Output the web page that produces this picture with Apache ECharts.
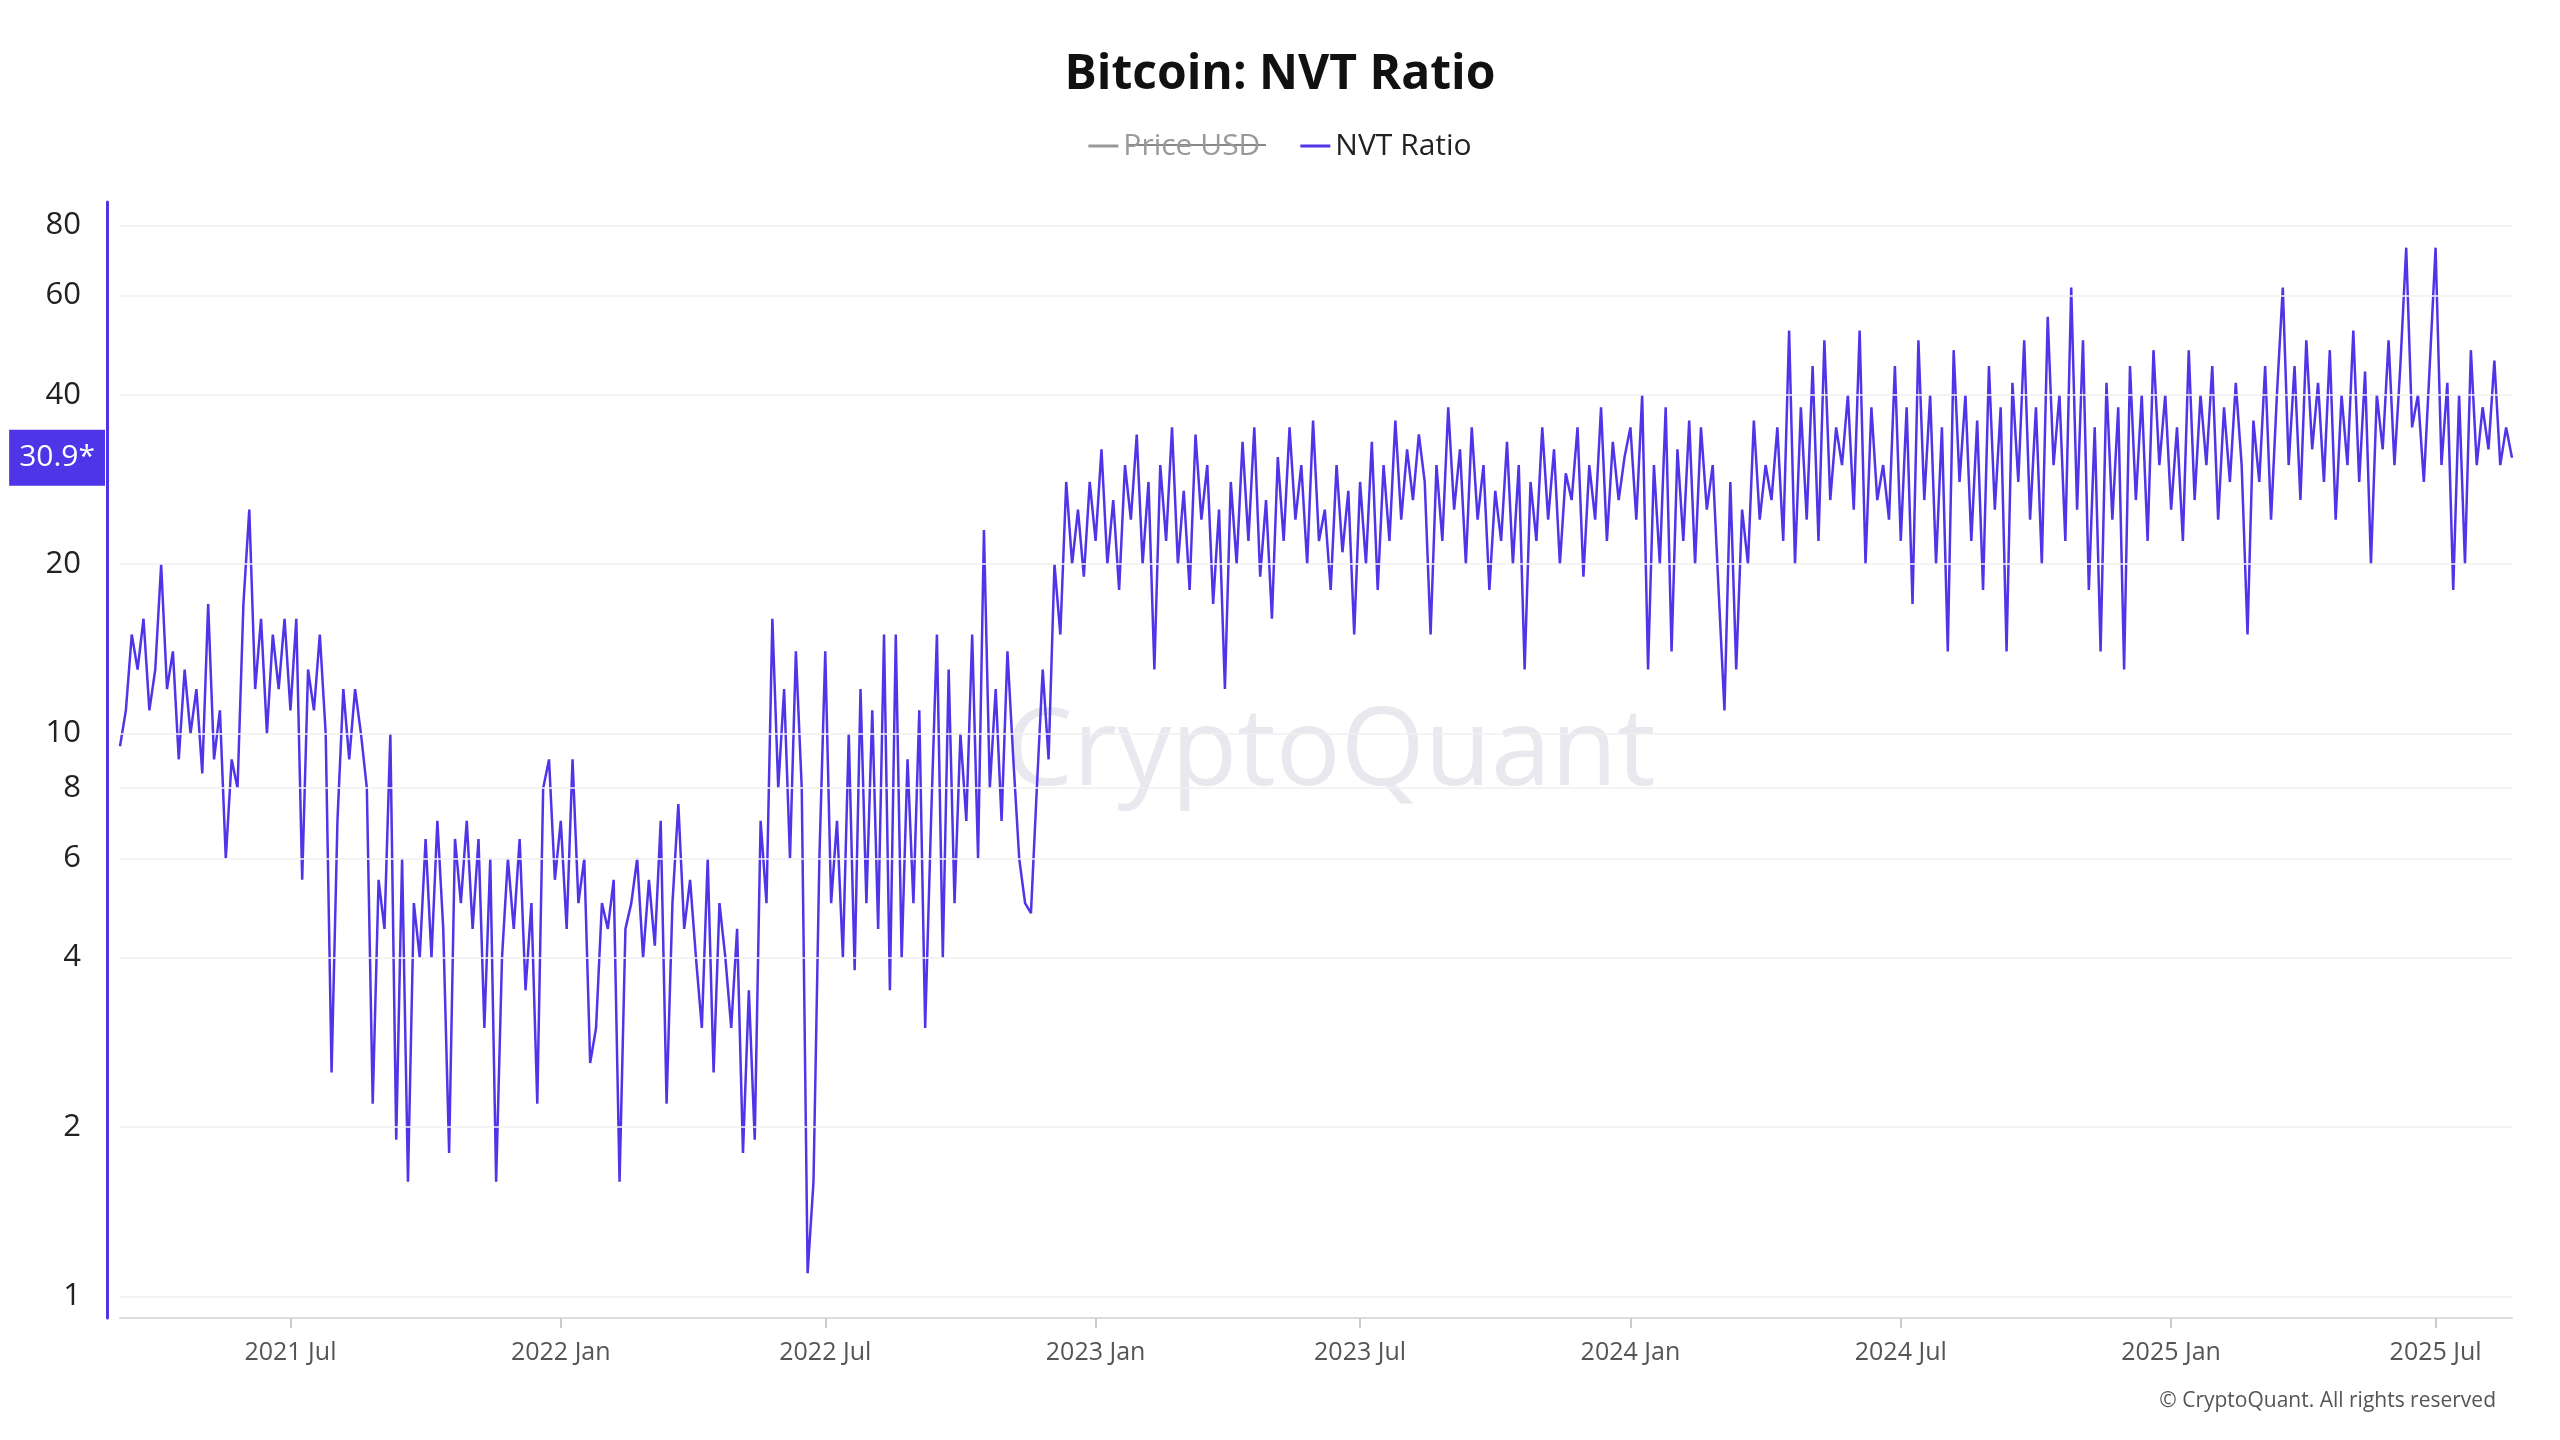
<!DOCTYPE html>
<html><head><meta charset="utf-8">
<script src="https://cdn.jsdelivr.net/npm/echarts@6/dist/echarts.min.js"></script>
<style>html,body{margin:0;padding:0;background:#fff}#c{width:2560px;height:1440px}</style>
</head><body><div id="c"></div>
<script>
const startDate = '2021-03-09';
const stepDays = 4;
const seg2021H1 = [9.5,11,15,13,16,11,13,20,12,14,9,13,10,12,8.5,17,9,11,6,9,8,17,25,12,16,10,15,12,16];
const seg2021H2 = [11,16,5.5,13,11,15,10,2.5,7,12,9,12,10,8,2.2,5.5,4.5,10,1.9,6,1.6,5,4,6.5,4,7,4.5,1.8,6.5,5,7,4.5,6.5,3,6,1.6,4,6,4.5,6.5,3.5,5,2.2,8,9,5.5];
const seg2022H1 = [7,4.5,9,5,6,2.6,3,5,4.5,5.5,1.6,4.5,5,6,4,5.5,4.2,7,2.2,5,7.5,4.5,5.5,4,3,6,2.5,5,4,3,4.5,1.8,3.5,1.9,7,5,16,8,12,6,14,8,1.1,1.6,6];
const seg2022H2 = [14,5,7,4,10,3.8,12,5,11,4.5,15,3.5,15,4,9,5,11,3,7,15,4,13,5,10,7,15,6,23,8,12,7,14,9,6,5,4.8,8,13,9,20,15,28,20,25,19,28];
const seg2023H1 = [22,32,20,26,18,30,24,34,20,28,13,30,22,35,20,27,18,34,24,30,17,25,12,28,20,33,22,35,19,26,16,31,22,35,24,30,20,36,22,25,18,30,21,27,15];
const seg2023H2 = [28,20,33,18,30,22,36,24,32,26,34,28,15,30,22,38,25,32,20,35,24,30,18,27,22,33,20,30,13,28,22,35,24,32,20,29,26,35,19,30,24,38,22,33,26,31];
const seg2024H1 = [35,24,40,13,30,20,38,14,32,22,36,20,35,25,30,18,11,28,13,25,20,36,24,30,26,35,22,52,20,38,24,45,22,50,26,35,30,40,25,52,20,38,26,30,24];
const seg2024H2 = [45,22,38,17,50,26,40,20,35,14,48,28,40,22,36,18,45,25,38,14,42,28,50,24,38,20,55,30,40,22,62,25,50,18,35,14,42,24,38,13,45,26,40,22,48,30];
const seg2025 = [40,25,35,22,48,26,40,30,45,24,38,28,42,30,15,36,28,45,24,40,62,30,45,26,50,32,42,28,48,24,40,30,52,28,44,20,40,32,50,30,45,73,35,40,28,45,73,30,42,18,40,20,48,30,38,32,46,30,35,30.9];
const yTicks = [1,2,4,6,8,10,20,40,60,80];
const latestLabel = '30.9*';
const latestValue = 30.9;

const nvt = [].concat(seg2021H1,seg2021H2,seg2022H1,seg2022H2,seg2023H1,seg2023H2,seg2024H1,seg2024H2,seg2025);
const t0 = Date.parse(startDate+'T00:00:00Z');
const dates = nvt.map((_,i)=>new Date(t0+i*stepDays*86400000).toISOString().slice(0,10));
const isTick = (idx,val)=>{const m=val.slice(5,7), d=+val.slice(8,10); return (m==='01'||m==='07') && d<=stepDays;};
const purple = '#4f35e8';
const font = 'Open Sans';

const chart = echarts.init(document.getElementById('c'));
chart.setOption({
  animation:false,
  textStyle:{fontFamily:font},
  title:{text:'Bitcoin: NVT Ratio',left:'center',top:46,textStyle:{fontSize:48,fontWeight:'bold',color:'#111',fontFamily:font}},
  legend:{top:126,left:'center',data:['Price USD','NVT Ratio'],selected:{'Price USD':false},
    icon:'rect',itemWidth:30,itemHeight:3,itemGap:40,inactiveColor:'#999',
    textStyle:{fontSize:30,color:'#222'}},
  grid:{left:120,right:48,top:202,bottom:122},
  xAxis:{type:'category',data:dates,boundaryGap:false,
    axisLine:{lineStyle:{color:'#ddd',width:2}},
    axisTick:{interval:isTick,length:10,lineStyle:{color:'#ccc',width:2}},
    axisLabel:{interval:isTick,fontSize:25,color:'#555',margin:22,
      formatter:v=>v.slice(0,4)+' '+(v.slice(5,7)==='01'?'Jan':'Jul')},
    splitLine:{show:false}},
  yAxis:{type:'log',min:0.916,max:88,offset:13,axisLine:{show:true,lineStyle:{color:purple,width:3}},
    axisTick:{show:false},axisLabel:{show:false},splitLine:{show:false}},
  graphic:[
    {type:'text',left:1005,top:700,z:0,style:{text:'CryptoQuant',fontSize:108,fontWeight:'normal',fill:'rgba(190,190,205,0.35)',fontFamily:font}},
    {type:'line',shape:{x1:1127,y1:145,x2:1266,y2:145},style:{stroke:'#888',lineWidth:2}},
    {type:'text',right:64,top:1391,style:{text:'© CryptoQuant. All rights reserved',fontSize:21,fill:'#555',fontFamily:font}}
  ],
  series:[
    {name:'Price USD',type:'line',data:[],itemStyle:{color:'#888'},lineStyle:{color:'#888'}},
    {name:'NVT Ratio',type:'line',data:nvt,showSymbol:false,symbol:'none',
      itemStyle:{color:purple},lineStyle:{color:purple,width:2.5},
      markLine:{silent:true,symbol:'none',animation:false,
        data:yTicks.map(t=>({yAxis:t,lineStyle:{color:'#f0f0f0',width:1.5,type:'solid'},
          label:{position:'start',formatter:String(t),fontSize:31,color:'#222',distance:39}}))
          .concat([{yAxis:latestValue,lineStyle:{color:'rgba(0,0,0,0)',width:0},
            label:{position:'start',formatter:latestLabel,fontSize:30,color:'#fff',backgroundColor:purple,padding:[13,10,13,10],distance:15}}])}}
  ]
});
</script></body></html>
